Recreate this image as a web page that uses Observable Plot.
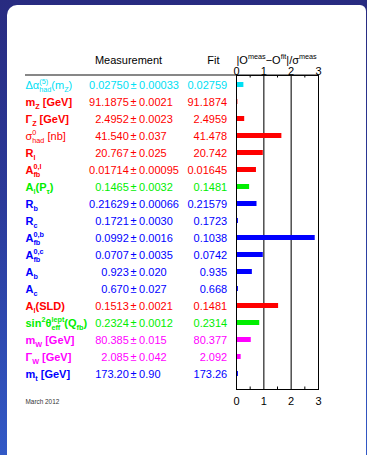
<!DOCTYPE html>
<html><head><meta charset="utf-8">
<script src="https://cdn.jsdelivr.net/npm/d3@7"></script>
<script src="https://cdn.jsdelivr.net/npm/@observablehq/plot@0.6"></script>
<style>
html,body{margin:0;padding:0;}
body{width:367px;height:455px;overflow:hidden;position:relative;background:linear-gradient(to bottom,#282b80 0%,#2b3a9a 45%,#3259c6 100%);font-family:"Liberation Sans",Arial,sans-serif;}
#panel{position:absolute;left:7px;top:5px;right:1px;bottom:0;background:#fff;border-top-left-radius:10px;border-top-right-radius:6px;}
#chart{position:absolute;left:0;top:0;}
</style></head><body><div id="panel"></div><div id="chart"></div>
<script>
// ---- data ----
const keys = ["dalpha","mZ","GZ","shad","Rl","Afbl","AlPtau","Rb","Rc","Afbb","Afbc","Ab","Ac","AlSLD","sin2","mW","GW","mt"];
const labels = ["Δα^{(5)}_{had}(m_{Z})","m_{Z} [GeV]","Γ_{Z} [GeV]","σ^{0}_{had} [nb]","R_{l}","A^{0,l}_{fb}","A_{l}(P_{τ})","R_{b}","R_{c}","A^{0,b}_{fb}","A^{0,c}_{fb}","A_{b}","A_{c}","A_{l}(SLD)","sin^{2}θ^{lept}_{eff}(Q_{fb})","m_{W} [GeV]","Γ_{W} [GeV]","m_{t} [GeV]"];
const measured = ["0.02750","91.1875","2.4952","41.540","20.767","0.01714","0.1465","0.21629","0.1721","0.0992","0.0707","0.923","0.670","0.1513","0.2324","80.385","2.085","173.20"];
const errors = ["0.00033","0.0021","0.0023","0.037","0.025","0.00095","0.0032","0.00066","0.0030","0.0016","0.0035","0.020","0.027","0.0021","0.0012","0.015","0.042","0.90"];
const fits = ["0.02759","91.1874","2.4959","41.478","20.742","0.01645","0.1481","0.21579","0.1723","0.1038","0.0742","0.935","0.668","0.1481","0.2314","80.377","2.092","173.26"];
const pulls = [0.27,0.05,0.30,1.66,0.98,0.73,0.48,0.75,0.07,2.88,0.98,0.58,0.07,1.54,0.85,0.54,0.17,0.07];
const groups = ["alpha","zpole","zpole","zpole","zpole","zpole","tau","heavy","heavy","heavy","heavy","heavy","heavy","sld","qfb","wboson","wboson","top"];
const groupNames = ["alpha","zpole","tau","heavy","sld","qfb","wboson","top"];
const groupColors = ["#00e0f4","#ff0000","#00ee00","#0000ff","#ff0000","#00ee00","#ff00ff","#0000ff"];
const headers = ["Measurement","Fit","|O^{meas}−O^{fit}|/σ^{meas}"];
const xTicks = [0,1,2,3];
const gridTicks = [1,2];
const minorTicks = [0.5,1.5,2.5];
const dateNote = ["March 2012"];

const rows = keys.map((k,i)=>({key:k,label:labels[i],meas:measured[i],err:errors[i],fit:fits[i],pull:pulls[i],group:groups[i]}));

const plot = Plot.plot({
  width: 367, height: 455,
  marginLeft: 236, marginRight: 49, marginTop: 75, marginBottom: 66,
  style: {background: "transparent", fontFamily: "Liberation Sans, Arial, sans-serif", fontSize: "11px", overflow: "visible"},
  x: {domain: [0,3]},
  y: {type: "band", domain: keys, paddingInner: 0.68, paddingOuter: 0, insetTop: 7.28, insetBottom: 12.28, axis: null},
  color: {type: "ordinal", domain: groupNames, range: groupColors},
  marks: [
    Plot.ruleX(gridTicks, {x: d=>d, stroke: "#222", strokeWidth: 1.2}),
    Plot.ruleX(minorTicks, {x: d=>d, insetBottom: 311.5, stroke: "#000"}),
    Plot.ruleX(minorTicks, {x: d=>d, insetTop: 311.5, stroke: "#000"}),
    Plot.barX(rows, {x: "pull", y: "key", fill: "group"}),
    Plot.frame({stroke: "#000"}),
    Plot.ruleY([keys[0]], {y: d=>d, dy: -10, insetLeft: -211, stroke: "#111", strokeWidth: 1.2}),
    Plot.axisX({anchor: "top", ticks: xTicks, tickFormat: d=>String(d), tickSize: 0, tickPadding: 1, label: null, fontSize: 11}),
    Plot.axisX({anchor: "bottom", ticks: xTicks, tickFormat: d=>String(d), tickSize: 0, tickPadding: 7.5, label: null, fontSize: 11}),
    Plot.text(rows, {y: "key", text: "label", frameAnchor: "left", dx: -211, textAnchor: "start", fill: "group", fontSize: 11}),
    Plot.text(rows, {y: "key", text: "meas", frameAnchor: "left", dx: -107.7, textAnchor: "end", fill: "group", fontSize: 11}),
    Plot.text(rows, {y: "key", text: () => "±", frameAnchor: "left", dx: -106, textAnchor: "start", fill: "group", fontSize: 11}),
    Plot.text(rows, {y: "key", text: "err", frameAnchor: "left", dx: -97.4, textAnchor: "start", fill: "group", fontSize: 11}),
    Plot.text(rows, {y: "key", text: "fit", frameAnchor: "left", dx: -9.3, textAnchor: "end", fill: "group", fontSize: 11}),
    Plot.text([headers[0]], {text: d=>d, frameAnchor: "top-left", dx: -108, dy: -12, textAnchor: "middle", lineAnchor: "bottom", fontSize: 11, fill: "#000"}),
    Plot.text([headers[1]], {text: d=>d, frameAnchor: "top-left", dx: -17, dy: -12, textAnchor: "end", lineAnchor: "bottom", fontSize: 11, fill: "#000"}),
    Plot.text([headers[2]], {text: d=>d, frameAnchor: "top-left", dx: 0, dy: -12, textAnchor: "start", lineAnchor: "bottom", fontSize: 11, fill: "#000"}),
    Plot.text(dateNote, {text: d=>d, frameAnchor: "bottom-left", dx: -211, dy: 14, textAnchor: "start", lineAnchor: "bottom", fontSize: 6.4, fill: "#333"})
  ]
});
document.getElementById("chart").appendChild(plot);

// ---- rich text (sub/superscripts) ----
function parse(s){
  const segs=[]; let i=0, buf="";
  const flush=()=>{ if(buf){segs.push({t:"n",s:buf}); buf="";} };
  while(i<s.length){
    const c=s[i];
    if(c==="^"||c==="_"){
      flush();
      let g;
      if(s[i+1]==="{"){ const j=s.indexOf("}",i+2); g=s.slice(i+2,j); i=j+1; }
      else { g=s[i+1]; i+=2; }
      segs.push({t: c==="^"?"sup":"sub", s:g});
    } else { buf+=c; i++; }
  }
  flush();
  return segs;
}
function rich(el, bold){
  const segs=parse(el.textContent);
  while(el.firstChild) el.removeChild(el.firstChild);
  if(bold) el.setAttribute("font-weight","bold");
  const NS="http://www.w3.org/2000/svg";
  let shift=0, prevType=null, prevLen=0, extraDx=0;
  segs.forEach((sg,k)=>{
    const next=segs[k+1];
    const stackedSup = sg.t==="sup" && next && next.t==="sub";
    const stackedSub = sg.t==="sub" && prevType==="sup";
    const ts=document.createElementNS(NS,"tspan");
    ts.textContent=sg.s;
    if(sg.t!=="n") ts.setAttribute("font-size","0.66em");
    const target = sg.t==="sup" ? (stackedSup ? -5 : -4.2) : sg.t==="sub" ? (stackedSub ? 3.6 : 3) : 0;
    const dy = target-shift; shift=target;
    if(dy) ts.setAttribute("dy", dy);
    let dx=0;
    if(stackedSub){ dx=-prevLen; }
    else if(extraDx){ dx=extraDx; }
    extraDx=0;
    if(dx) ts.setAttribute("dx", dx);
    el.appendChild(ts);
    const len=ts.getComputedTextLength();
    if(stackedSub) extraDx=Math.max(0, prevLen-len);
    prevType=sg.t; prevLen=len;
  });
}
plot.querySelectorAll("text").forEach(el=>{
  const s=el.textContent;
  const li=labels.indexOf(s);
  if(li>=0) rich(el, !(li===0||li===3));
  else if(s===headers[2]) rich(el,false);
});
</script>
</body></html>
